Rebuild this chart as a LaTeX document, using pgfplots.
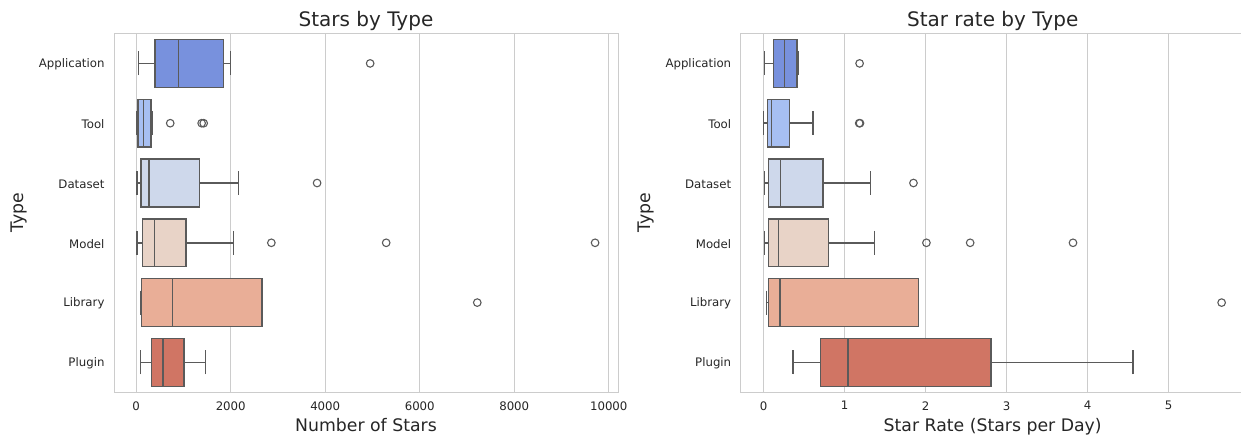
\documentclass[border=0pt]{standalone}
\usepackage{pgfplots}
\pgfplotsset{compat=1.18}
\usepgfplotslibrary{statistics}
\usepackage{fontspec}
\setmainfont{DejaVu Sans}
\definecolor{cA}{HTML}{7891DD}
\definecolor{cT}{HTML}{A7BFF2}
\definecolor{cD}{HTML}{CED8EB}
\definecolor{cM}{HTML}{E8D3C7}
\definecolor{cL}{HTML}{E9AE97}
\definecolor{cP}{HTML}{D07564}
\definecolor{lc}{HTML}{5A5A5A}
\definecolor{gridc}{HTML}{CCCCCC}
\definecolor{txt}{HTML}{262626}
\pgfplotsset{
  myaxis/.style={
    scale only axis, width=504pt, height=358.8pt,
    y dir=reverse, ymin=-0.5, ymax=5.5,
    ytick={0,1,2,3,4,5},
    yticklabels={Application,Tool,Dataset,Model,Library,Plugin},
    xmajorgrids, ymajorgrids=false,
    grid style={gridc, line width=0.9pt},
    axis line style={gridc, line width=0.9pt},
    major tick length=0pt,
    scaled x ticks=false,
    tick label style={font=\fontsize{11.75}{14}\selectfont, text=txt},
    xticklabel style={yshift=-5.5pt},
    yticklabel style={xshift=-6pt, yshift=-1pt},
    /pgf/number format/assume math mode=true,
    /pgf/number format/1000 sep={},
    label style={font=\fontsize{17.3}{20}\selectfont, text=txt},
    title style={font=\fontsize{20}{23}\selectfont, text=txt, at={(axis description cs:0.5,1)}, anchor=base, yshift=1.5pt},
    xlabel style={at={(axis description cs:0.5,0)}, anchor=base, yshift=-39pt},
    ylabel style={at={(axis description cs:-0.1885,0.5)}, anchor=center, rotate=0},
    ylabel=Type,
    boxplot/draw direction=x,
    boxplot/box extend=0.8,
    boxplot/whisker extend=0.4,
    boxplot/every whisker/.style={line width=1.5pt, draw=lc},
    boxplot/every median/.style={line width=1.5pt, draw=lc},
    boxplot/every box/.style={line width=1.5pt, draw=lc},
  },
  bx/.style={draw=lc, line width=1.5pt, solid, mark=none},
  fl/.style={only marks, mark=o, mark size=3.8pt, mark options={draw=lc, line width=1.1pt, fill=none, solid}},
}
\begin{document}
\begin{tikzpicture}
\begin{axis}[myaxis, at={(114pt,43.7pt)}, anchor=south west,
  title={Stars by Type}, xlabel={Number of Stars},
  xmin=-470, xmax=10196, xtick={0,2000,4000,6000,8000,10000}]
\addplot[bx, fill=cA, boxplot prepared={draw position=0, lower whisker=50, lower quartile=396, median=898, upper quartile=1851, upper whisker=2000}] coordinates {};
\addplot[bx, fill=cT, boxplot prepared={draw position=1, lower whisker=21, lower quartile=42, median=157, upper quartile=311, upper whisker=339}] coordinates {};
\addplot[bx, fill=cD, boxplot prepared={draw position=2, lower whisker=15, lower quartile=106, median=269, upper quartile=1335, upper whisker=2169}] coordinates {};
\addplot[bx, fill=cM, boxplot prepared={draw position=3, lower whisker=15, lower quartile=135, median=382, upper quartile=1053, upper whisker=2063}] coordinates {};
\addplot[bx, fill=cL, boxplot prepared={draw position=4, lower whisker=93, lower quartile=114, median=771, upper quartile=2657, upper whisker=2657}] coordinates {};
\addplot[bx, fill=cP, boxplot prepared={draw position=5, lower whisker=93, lower quartile=326, median=572, upper quartile=1011, upper whisker=1470}] coordinates {};
\addplot[fl] coordinates {(4951,0) (720,1) (1385,1) (1428,1) (3828,2) (2860,3) (5290,3) (9711,3) (7218,4)};
\end{axis}
\begin{axis}[myaxis, at={(740.7pt,43.7pt)}, anchor=south west,
  title={Star rate by Type}, xlabel={Star Rate (Stars per Day)},
  xmin=-0.283, xmax=5.94, xtick={0,1,2,3,4,5}]
\addplot[bx, fill=cA, boxplot prepared={draw position=0, lower whisker=0.01, lower quartile=0.12, median=0.26, upper quartile=0.41, upper whisker=0.43}] coordinates {};
\addplot[bx, fill=cT, boxplot prepared={draw position=1, lower whisker=0.0, lower quartile=0.05, median=0.10, upper quartile=0.32, upper whisker=0.61}] coordinates {};
\addplot[bx, fill=cD, boxplot prepared={draw position=2, lower whisker=0.01, lower quartile=0.06, median=0.21, upper quartile=0.73, upper whisker=1.32}] coordinates {};
\addplot[bx, fill=cM, boxplot prepared={draw position=3, lower whisker=0.01, lower quartile=0.06, median=0.185, upper quartile=0.80, upper whisker=1.37}] coordinates {};
\addplot[bx, fill=cL, boxplot prepared={draw position=4, lower whisker=0.035, lower quartile=0.06, median=0.20, upper quartile=1.91, upper whisker=1.91}] coordinates {};
\addplot[bx, fill=cP, boxplot prepared={draw position=5, lower whisker=0.365, lower quartile=0.70, median=1.04, upper quartile=2.81, upper whisker=4.56}] coordinates {};
\addplot[fl] coordinates {(1.185,0) (1.18,1) (1.19,1) (1.85,2) (2.01,3) (2.55,3) (3.82,3) (5.655,4)};
\end{axis}
\pgfresetboundingbox
\useasboundingbox (0,0) rectangle (1241pt,436pt);
\end{tikzpicture}
\end{document}
